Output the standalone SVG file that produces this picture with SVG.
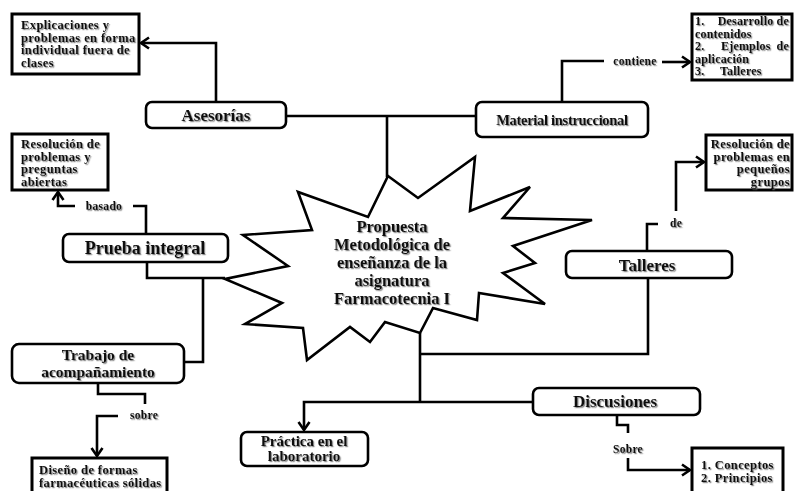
<svg xmlns="http://www.w3.org/2000/svg" width="794" height="491" viewBox="0 0 794 491">
<defs>
<filter id="sh" x="-10%" y="-30%" width="120%" height="160%">
<feDropShadow dx="1.2" dy="1.2" stdDeviation="0.7" flood-color="#666" flood-opacity="0.75"/>
</filter>
<marker id="arr" markerUnits="userSpaceOnUse" markerWidth="14" markerHeight="14" refX="11" refY="7" orient="auto" overflow="visible">
<path d="M3,1.5 L11,7 L3,12.5" fill="none" stroke="#000" stroke-width="2.6" stroke-linejoin="miter"/>
</marker>
</defs>
<style>
text{font-family:"Liberation Serif","Times New Roman",serif;font-weight:bold;fill:#111;filter:url(#sh)}
.node{fill:#fff;stroke:#000;stroke-width:2.6}
.leaf{fill:#fff;stroke:#000;stroke-width:3}
.con{fill:none;stroke:#000;stroke-width:2.6}
.t{text-anchor:middle}
.s{font-size:12.5px;letter-spacing:0.4px}
.n{font-size:12px;letter-spacing:0.2px}
.lbl{font-size:11.5px;letter-spacing:0.3px}
</style>
<rect width="794" height="491" fill="#fff"/>

<g id="connectors">
<path class="con" d="M216,102 V43 H141" marker-end="url(#arr)"/>
<path class="con" d="M286,116 H476 M387,116 V177"/>
<path class="con" d="M562,102 V61 H604"/>
<path class="con" d="M662,62 H690" marker-end="url(#arr)"/>
<path class="con" d="M146,234 V206 H133"/>
<path class="con" d="M75,206 H58 V192" marker-end="url(#arr)"/>
<path class="con" d="M147,262 V278 H225 M203,278 V362 H185"/>
<path class="con" d="M420,333 V402 M420,354 H648 V278"/>
<path class="con" d="M647,251 V224 H658"/>
<path class="con" d="M676,211 V162 H704" marker-end="url(#arr)"/>
<path class="con" d="M420,402 H533"/>
<path class="con" d="M420,402 H304 V430" marker-end="url(#arr)"/>
<path class="con" d="M617,415 V425 H628 V433"/>
<path class="con" d="M628,458 V470 H690" marker-end="url(#arr)"/>
<path class="con" d="M98,383 V394 H145 V404"/>
<path class="con" d="M118,416 H97 V456" marker-end="url(#arr)"/>
<text class="lbl t" x="635" y="65">contiene</text>
<text class="lbl t" x="104" y="210">basado</text>
<text class="lbl t" x="676" y="227">de</text>
<text class="lbl t" x="144" y="419">sobre</text>
<text class="lbl t" x="628" y="453">Sobre</text>
</g>

<g id="center">
<polygon points="388,176 418,198 475,157 470,211 530,187 503,218 592,220 513,246 535,263 503,273 545,304 479,293 477,320 433,308 420,333 385,322 370,342 350,327 307,360 303,328 245,324 282,303 225,279 288,266 243,235 312,230 298,192 368,217" fill="#fff" stroke="#000" stroke-width="2.6" stroke-linejoin="miter"/>
<text class="t" x="392" y="232" font-size="16.5">Propuesta</text>
<text class="t" x="392" y="250" font-size="16.5">Metodológica de</text>
<text class="t" x="392" y="268" font-size="16.5">enseñanza de la</text>
<text class="t" x="392" y="286" font-size="16.5">asignatura</text>
<text class="t" x="392" y="304" font-size="16.5">Farmacotecnia I</text>
</g>

<g id="asesorias">
<rect class="node" x="146" y="102" width="140" height="26" rx="6"/>
<text class="t" x="216" y="121" font-size="17">Asesorías</text>
</g>
<g id="explicaciones">
<rect class="leaf" x="12" y="14" width="127" height="60"/>
<text class="s" x="21" y="29">Explicaciones y</text>
<text class="s" x="21" y="41.5">problemas en forma</text>
<text class="s" x="21" y="54">individual fuera de</text>
<text class="s" x="21" y="66.5">clases</text>
</g>

<g id="material">
<rect class="node" x="476" y="102" width="172" height="35" rx="6"/>
<text class="t" x="562" y="125" font-size="14.5" letter-spacing="-0.3">Material instruccional</text>
</g>
<g id="contenidos">
<rect class="leaf" x="692" y="14" width="100" height="66"/>
<text class="n" x="695" y="25">1.</text>
<text class="n" x="789" y="25" text-anchor="end">Desarrollo de</text>
<text class="n" x="695" y="37.5">contenidos</text>
<text class="n" x="695" y="50">2.</text>
<text class="n" x="721" y="50">Ejemplos</text>
<text class="n" x="789" y="50" text-anchor="end">de</text>
<text class="n" x="695" y="62.5">aplicación</text>
<text class="n" x="695" y="75">3.</text>
<text class="n" x="720" y="75">Talleres</text>
</g>

<g id="prueba">
<rect class="node" x="63" y="234" width="165" height="28" rx="6"/>
<text class="t" x="145" y="254" font-size="18">Prueba integral</text>
</g>
<g id="resolucion1">
<rect class="leaf" x="12" y="134" width="96" height="56"/>
<text class="s" x="21" y="148">Resolución de</text>
<text class="s" x="21" y="160.5">problemas y</text>
<text class="s" x="21" y="173">preguntas</text>
<text class="s" x="21" y="185.5">abiertas</text>
</g>

<g id="talleres">
<rect class="node" x="566" y="251" width="166" height="27" rx="6"/>
<text class="t" x="647" y="271" font-size="17">Talleres</text>
</g>
<g id="resolucion2">
<rect class="leaf" x="706" y="135" width="86" height="55"/>
<text class="s" x="790" y="148" text-anchor="end">Resolución de</text>
<text class="s" x="790" y="160.5" text-anchor="end">problemas en</text>
<text class="s" x="790" y="173" text-anchor="end">pequeños</text>
<text class="s" x="790" y="185.5" text-anchor="end">grupos</text>
</g>

<g id="trabajo">
<rect class="node" x="12" y="344" width="172" height="39" rx="7"/>
<text class="t" x="98" y="360" font-size="15.5">Trabajo de</text>
<text class="t" x="98" y="377" font-size="15.5">acompañamiento</text>
</g>
<g id="diseno">
<rect class="leaf" x="32" y="458" width="135" height="45"/>
<text class="s" x="39" y="474">Diseño de formas</text>
<text class="s" x="39" y="486.5">farmacéuticas sólidas</text>
</g>

<g id="practica">
<rect class="node" x="241" y="432" width="127" height="34" rx="6"/>
<text class="t" x="304" y="446" font-size="15">Práctica en el</text>
<text class="t" x="304" y="461" font-size="15">laboratorio</text>
</g>

<g id="discusiones">
<rect class="node" x="533" y="388" width="167" height="27" rx="6"/>
<text class="t" x="615" y="407" font-size="17">Discusiones</text>
</g>
<g id="conceptos">
<rect class="leaf" x="692" y="448" width="91" height="55"/>
<text class="s" x="701" y="469">1. Conceptos</text>
<text class="s" x="701" y="482">2. Principios</text>
</g>
</svg>
